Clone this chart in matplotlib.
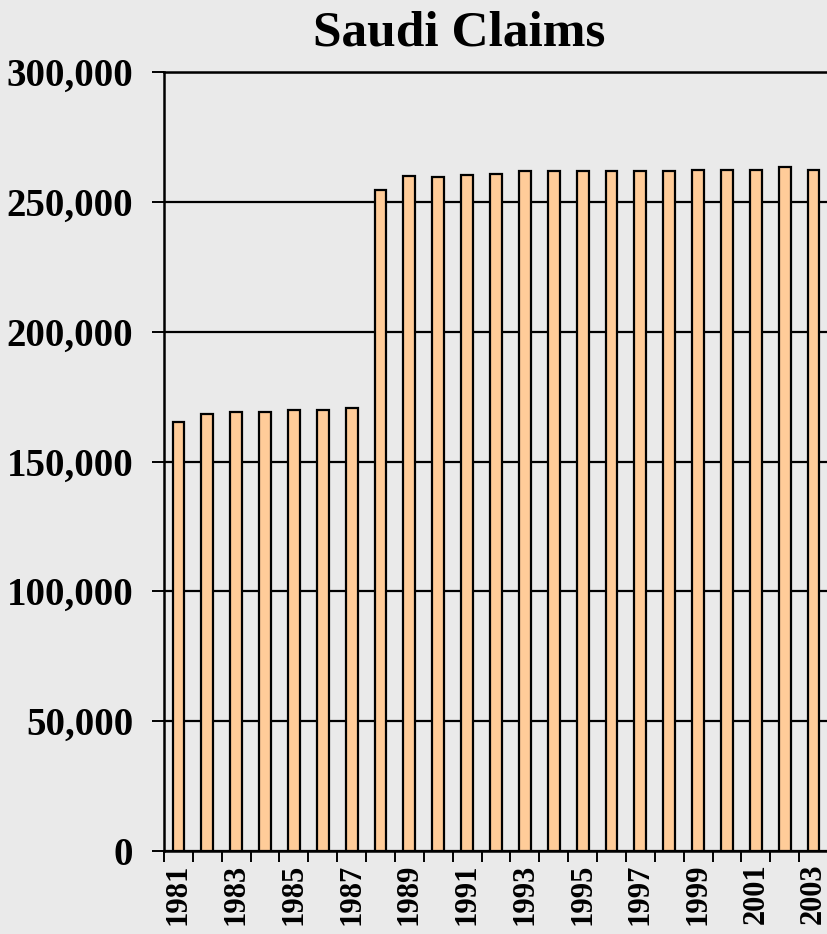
import matplotlib.pyplot as plt
from matplotlib.ticker import FuncFormatter

# Saudi oil reserve claims (million barrels)
years = list(range(1981, 2004))
claims = [165200, 168200, 169000, 169000, 169800, 169800, 170500,
          254700, 259900, 259700, 260300, 260800, 261700, 261700,
          261700, 261700, 261700, 261700, 262300, 262300, 262300,
          263300, 262300]
year_labels = [str(y) for y in years[::2]]

bg = "#EAEAEA"
font = "Liberation Serif"

fig = plt.figure(figsize=(8.28, 9.34), dpi=100, facecolor=bg)
ax = fig.add_axes([164 / 828, 83 / 934, 664 / 828, 779 / 934])
ax.set_facecolor(bg)

ax.bar(years, claims, width=0.41, color="#FFCC99", edgecolor="black",
       linewidth=1.6, zorder=3)

ax.set_ylim(0, 300000)
ax.set_xlim(1980.5, 2003.32)
ax.set_yticks(range(0, 300001, 50000))
ax.yaxis.set_major_formatter(FuncFormatter(lambda v, p: f"{int(v):,}"))
ax.grid(axis="y", color="black", linewidth=1.6, zorder=1)

# labels on every other bar, tick marks at category boundaries
ax.set_xticks(years[::2])
ax.set_xticklabels(year_labels, rotation=90)
ax.set_xticks([y - 0.5 for y in years] + [2003.5], minor=True)
ax.tick_params(axis="x", which="major", length=0, pad=9)
ax.tick_params(axis="x", which="minor", length=8, width=1.4, direction="out")
ax.tick_params(axis="y", length=9, width=1.4, pad=13)

for lab in ax.get_xticklabels():
    lab.set_fontfamily(font)
    lab.set_fontweight("bold")
    lab.set_fontsize(22)
for lab in ax.get_yticklabels():
    lab.set_fontfamily(font)
    lab.set_fontweight("bold")
    lab.set_fontsize(28)

ax.spines["right"].set_visible(False)
for side in ["left", "bottom", "top"]:
    ax.spines[side].set_linewidth(1.8)
    ax.spines[side].set_zorder(4)

fig.text(459 / 828, 1 - 34 / 934, "Saudi Claims", ha="center", va="center",
         fontfamily=font, fontweight="bold", fontsize=37)

fig.savefig("out.png", dpi=100, facecolor=bg)
